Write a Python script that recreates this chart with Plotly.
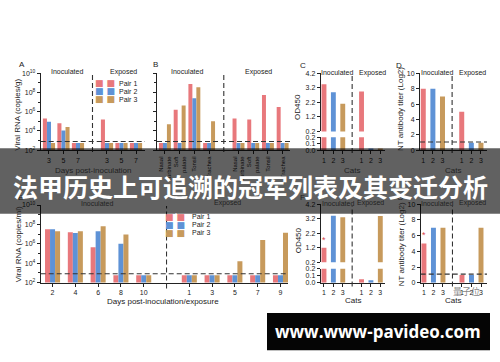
import plotly.graph_objects as go

# ---------------- data ----------------
PAIR_NAMES = ["Pair 1", "Pair 2", "Pair 3"]
PAIR_COLORS = ["#E8787C", "#5E92D6", "#C79A5C"]

# A: viral RNA in nasal washes (log10 copies/g); inoculated days 3,5,7 then exposed days 3,5,7
a_ticks = ["3", "5", "7", "3", "5", "7"]
a_pair1 = [5.3, 4.8, 2.75, 5.2, 2.75, 2.75]
a_pair2 = [4.95, 4.05, 2.75, 2.75, 2.75, 2.75]
a_pair3 = [2.75, 4.4, 2.75, 2.75, 2.75, 2.75]

# B: viral RNA in tissues (log10 copies/g); inoculated then exposed
b_ticks = ["Nasal<br>turbinate", "Soft<br>palate", "Tonsil", "Trachea",
           "Nasal<br>turbinate", "Soft<br>palate", "Tonsil", "Trachea"]
b_pair1 = [2.75, 6.2, 8.9, 2.75, 5.3, 5.2, 7.75, 6.5]
b_pair2 = [2.75, 2.75, 7.4, 2.75, 2.75, 2.75, 2.75, 2.75]
b_pair3 = [4.7, 6.65, 8.55, 5.0, 2.75, 2.75, 2.75, 2.75]

# C / D: serology, cats 1-3 (inoculated) and 1-3 (exposed)
cat_ticks = ["1", "2", "3", "1", "2", "3"]
c_od450_inoc = [3.45, 2.9, 2.1]
c_od450_exp = [2.95, 0.03, 0.03]
d_titer_inoc = [8, 8, 7]
d_titer_exp = [5, 1, 1]

# E: viral RNA (log10 copies/ml); inoculated days 2..10, exposed days 1..9
e_ticks = ["2", "4", "6", "8", "10", "1", "3", "5", "7", "9"]
e_pair1 = [7.5, 7.2, 5.65, 2.75, 2.75, 2.75, 2.75, 2.75, 2.75, 2.75]
e_pair2 = [7.5, 7.1, 7.3, 6.0, 2.75, 2.75, 2.75, 2.75, 2.75, 2.75]
e_pair3 = [7.3, 7.3, 7.8, 6.95, 2.75, 2.75, 2.75, 4.2, 6.4, 7.15]

# F / G: serology of the second experiment
f_od450_inoc = [1.2, 3.4, 3.3]
f_od450_exp = [0.05, 0.035, 3.38]
g_titer_inoc = [5, 7, 7]
g_titer_exp = [1, 1, 7]

RNA_LIMIT_LOG10 = 2.9
TITER_LIMIT = 1.1

# ---------------- layout helpers ----------------
W, H = 500, 362
INK = "#222222"
FONT = "Liberation Sans, Arial, sans-serif"


def fx(px):
    return px / W


def fy(py):
    return 1 - py / H


def positions(n_inoc, n_exp):
    return list(range(n_inoc)) + [n_inoc + 1 + i for i in range(n_exp)]


def xaxis(domain_px, rng, ticks, anchor, angle=0, size=7):
    n = len(ticks)
    half = n // 2
    return dict(domain=[fx(domain_px[0]), fx(domain_px[1])], range=rng, anchor=anchor,
                tickmode="array", tickvals=positions(half, n - half), ticktext=ticks,
                tickangle=angle, showline=True, linecolor=INK, linewidth=1,
                ticks="outside", ticklen=3, tickwidth=1, tickcolor=INK,
                showgrid=False, zeroline=False, fixedrange=True,
                tickfont=dict(size=size, family=FONT, color=INK))


def yaxis(domain_px, rng, anchor, tickvals, ticktext=None, log=False, labels=True, minor=None):
    d = dict(domain=[fy(domain_px[0]), fy(domain_px[1])], range=rng, anchor=anchor,
             tickmode="array", tickvals=tickvals, ticktext=ticktext,
             showticklabels=labels, showline=True, linecolor=INK, linewidth=1,
             ticks="outside", ticklen=3, tickwidth=1, tickcolor=INK,
             showgrid=False, zeroline=False, fixedrange=True,
             tickfont=dict(size=7, family=FONT, color=INK))
    if log:
        d["type"] = "log"
    if minor is not None:
        d["minor"] = dict(tickmode="array", tickvals=minor, ticks="outside",
                          ticklen=2, tickcolor=INK, showgrid=False)
    return d


log_major = [1e2, 1e4, 1e6, 1e8, 1e10]
log_text = ["10<sup>2</sup>", "10<sup>4</sup>", "10<sup>6</sup>", "10<sup>8</sup>", "10<sup>10</sup>"]
log_minor = [1e3, 1e5, 1e7, 1e9]
od_up_vals = [0.2, 1.2, 2.2, 3.2, 4.2]
od_up_text = ["0.2", "1.2", "2.2", "3.2", "4.2"]
od_lo_vals = [0.0, 0.1, 0.2]
od_lo_text = ["0.0", "0.1", "0.2"]
titer_vals = [0, 2, 4, 6, 8, 10]

# x ranges (position units) of each panel
RANGE_A = [-0.57, 6.62]
RANGE_B = [-0.54, 8.5]
RANGE_C = [-0.35, 6.5]
RANGE_D = [-0.34, 6.63]
RANGE_E = [-0.52, 10.33]

fig = go.Figure()


def grouped_bars(vals_by_pair, xa, ya, width):
    n = len(vals_by_pair[0])
    half = n // 2
    pos = positions(half, n - half)
    for k, vals in enumerate(vals_by_pair):
        fig.add_trace(go.Bar(x=pos, y=[10 ** v for v in vals], width=width,
                             offset=-1.5 * width + k * width,
                             marker=dict(color=PAIR_COLORS[k], line=dict(width=0)),
                             xaxis=xa, yaxis=ya, hoverinfo="skip"))


def cat_bars(inoc, exp, xa, ya_list, width=0.52):
    for k in range(3):
        for ya in ya_list:
            fig.add_trace(go.Bar(x=[k, k + 4], y=[inoc[k], exp[k]], width=width,
                                 offset=-width / 2,
                                 marker=dict(color=PAIR_COLORS[k], line=dict(width=0)),
                                 xaxis=xa, yaxis=ya, hoverinfo="skip"))


def limit_line(xa, ya, xr, value):
    fig.add_trace(go.Scatter(x=xr, y=[value, value], mode="lines", xaxis=xa, yaxis=ya,
                             line=dict(color="#333333", width=1.1, dash="5px,3px"),
                             hoverinfo="skip"))


# Panel A / B / E: viral RNA
grouped_bars([a_pair1, a_pair2, a_pair3], "x", "y", 0.28)
limit_line("x", "y", RANGE_A, 10 ** RNA_LIMIT_LOG10)
grouped_bars([b_pair1, b_pair2, b_pair3], "x2", "y2", 0.27)
limit_line("x2", "y2", RANGE_B, 10 ** RNA_LIMIT_LOG10)
grouped_bars([e_pair1, e_pair2, e_pair3], "x5", "y6", 0.22)
limit_line("x5", "y6", RANGE_E, 10 ** RNA_LIMIT_LOG10)

# Panel C / F: OD450 with a broken axis (upper and lower segments)
cat_bars(c_od450_inoc, c_od450_exp, "x3", ["y3", "y4"])
cat_bars(f_od450_inoc, f_od450_exp, "x6", ["y7", "y8"])

# Panel D / G: neutralising antibody titres
cat_bars(d_titer_inoc, d_titer_exp, "x4", ["y5"])
limit_line("x4", "y5", RANGE_D, TITER_LIMIT)
cat_bars(g_titer_inoc, g_titer_exp, "x7", ["y9"])
limit_line("x7", "y9", RANGE_D, TITER_LIMIT)

layout = dict(
    width=W, height=H, autosize=False,
    margin=dict(l=0, r=0, t=0, b=0),
    paper_bgcolor="white", plot_bgcolor="white",
    showlegend=False, barmode="overlay",
    xaxis=xaxis((40.7, 145), RANGE_A, a_ticks, "y"),
    yaxis=yaxis((149, 70.7), [2, 10], "x", log_major, log_text, log=True, minor=log_minor),
    xaxis2=xaxis((157, 290), RANGE_B, b_ticks, "y2", angle=-90, size=6),
    yaxis2=yaxis((149, 70.7), [2, 10], "x2", log_major, log=True, labels=False, minor=log_minor),
    xaxis3=xaxis((320.7, 385), RANGE_C, cat_ticks, "y4"),
    yaxis3=yaxis((130, 70.7), [0.2, 4.2], "x3", od_up_vals, od_up_text),
    yaxis4=yaxis((149.3, 136), [0, 0.2], "x3", od_lo_vals, od_lo_text),
    xaxis4=xaxis((420, 487), RANGE_D, cat_ticks, "y5"),
    yaxis5=yaxis((149.3, 70.7), [0, 10], "x4", titer_vals),
    xaxis5=xaxis((40.7, 288), RANGE_E, e_ticks, "y6"),
    yaxis6=yaxis((284, 205), [2, 10], "x5", log_major, log_text, log=True, minor=log_minor),
    xaxis6=xaxis((320.7, 385), RANGE_C, cat_ticks, "y8"),
    yaxis7=yaxis((263.3, 204), [0.2, 4.2], "x6", od_up_vals, od_up_text),
    yaxis8=yaxis((284.3, 270), [0, 0.2], "x6", od_lo_vals, od_lo_text),
    xaxis7=xaxis((420.7, 487), RANGE_D, cat_ticks, "y9"),
    yaxis9=yaxis((284.3, 204), [0, 10], "x7", titer_vals),
)

shapes = []
# Inoculated / Exposed dividers
for xa, xpos, top, bottom in [("x", 3, 72, 151), ("x2", 4, 72, 151), ("x3", 3, 72, 152),
                               ("x4", 3, 72, 152), ("x5", 5, 206, 290), ("x6", 3, 206, 288),
                               ("x7", 3, 206, 288)]:
    shapes.append(dict(type="line", xref=xa, yref="paper", x0=xpos, x1=xpos,
                       y0=fy(bottom), y1=fy(top),
                       line=dict(color="#333333", width=1.1, dash="5px,3px")))

annotations = []


def text(x, y, s, size=7, angle=0, color=INK, xanchor="center", family=FONT, **kw):
    annotations.append(dict(x=fx(x), y=fy(y), xref="paper", yref="paper", text=s,
                            showarrow=False, textangle=angle, xanchor=xanchor,
                            yanchor="middle", font=dict(size=size, family=family, color=color),
                            **kw))


# panel letters
for letter, x, y in [("A", 22, 62), ("B", 155, 62), ("C", 303, 63), ("D", 399, 63),
                     ("E", 20, 197), ("F", 302, 197), ("G", 400, 197)]:
    text(x, y, letter, size=8)

# group headings
for x_in, x_ex, y in [(67, 123, 69), (187, 258, 69), (337, 372, 70), (437, 472, 70),
                      (97, 227, 203), (338, 370, 203), (437, 472, 203)]:
    text(x_in, y, "Inoculated")
    text(x_ex, y, "Exposed")

# axis titles
text(18, 113, "Viral RNA (copies/g)", size=8, angle=-90)
text(18, 245, "Viral RNA (copies/ml)", size=8, angle=-90)
text(298, 105, "OD450", size=8, angle=-90)
text(298, 241, "OD450", size=8, angle=-90)
text(401, 107, "NT antibody titer (Log2)", size=8, angle=-90)
text(401, 245, "NT antibody titer (Log2)", size=8, angle=-90)
text(93, 170, "Days post-inoculation", size=8)
text(352, 170, "Cats", size=8)
text(453, 170, "Cats", size=8)
text(163, 303, "Days post-inoculation/exposure", size=8)
text(353, 302, "Cats", size=8)
text(453, 302, "Cats", size=8)

# legends
for (sx, tx, ys) in [(105, 117, [81, 89, 97]), (175, 190, [216.7, 225, 233.3])]:
    for k, yy in enumerate(ys):
        c = PAIR_COLORS[k]
        sym = (f"<span style='color:{c}'>■</span><span style='color:#ffffff'>/</span>"
               f"<span style='color:{c}'>■</span>")
        text(sx, yy, sym, size=9, family="DejaVu Sans")
        text(tx, yy, PAIR_NAMES[k], size=7, xanchor="left")

# significance stars on cat 1
annotations.append(dict(x=0, y=f_od450_inoc[0], xref="x6", yref="y7", text="*",
                        showarrow=False, yanchor="bottom", yshift=1,
                        font=dict(size=9, color="#D9434A", family=FONT)))
annotations.append(dict(x=0, y=g_titer_inoc[0], xref="x7", yref="y9", text="*",
                        showarrow=False, yanchor="bottom", yshift=1,
                        font=dict(size=9, color="#D9434A", family=FONT)))

# watermark
text(466, 293, "量子位", size=9, color="rgba(110,110,110,0.85)", family="Noto Sans CJK SC")

# title band across the figure
shapes.append(dict(type="rect", xref="paper", yref="paper", x0=0, x1=1,
                   y0=fy(214), y1=fy(147), fillcolor="rgba(0,0,0,0.62)",
                   line=dict(width=0), layer="above"))
text(250, 186, "法甲历史上可追溯的冠军列表及其变迁分析", size=25, color="white",
     family="Noto Sans CJK SC")
annotations[-1]["font"]["weight"] = "bold"

# site banner
shapes.append(dict(type="rect", xref="paper", yref="paper", x0=fx(267), x1=fx(490),
                   y0=fy(353), y1=fy(315), fillcolor="#050505",
                   line=dict(width=0), layer="above"))
text(378, 334, "www.www-pavideo.com", size=17, color="white", family="Open Sans")
annotations[-1]["font"]["weight"] = "bold"

layout["shapes"] = shapes
layout["annotations"] = annotations
fig.update_layout(**layout)

fig.write_html("out.html")
